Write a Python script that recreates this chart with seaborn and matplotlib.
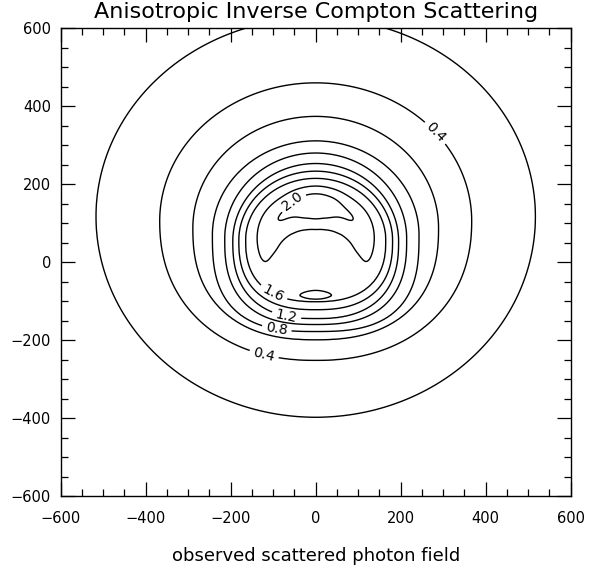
import numpy as np
import matplotlib
matplotlib.use("Agg")
import matplotlib.pyplot as plt
from matplotlib.ticker import MultipleLocator
import seaborn as sns

# ---------------- data ----------------
title = "Anisotropic Inverse Compton Scattering"
xlabel = "observed scattered photon field"

contour_levels = [0.2, 0.4, 0.6, 0.8, 1.0, 1.2, 1.4, 1.6, 1.8, 2.0]
label_levels = [0.4, 0.8, 1.2, 1.6, 2.0]

# closed outer contours (levels 0.2 .. 1.6): y of widest point, half width,
# top and bottom crossing on x = 0, shape exponents of upper/lower halves
ring_levels = [0.2, 0.4, 0.6, 0.8, 1.0, 1.2, 1.4, 1.6]
ring_cy = [117, 106, 88, 70, 60, 54, 56, 57]
ring_a = [517, 367, 289, 243, 214, 195, 181, 165]
ring_top = [627, 460, 374, 311, 280, 253, 233.5, 215]
ring_bottom = [-398, -252, -199, -178, -160, -145, -122, -101]
ring_p_top = [2.0, 2.0, 2.0, 2.0, 2.0, 2.0, 2.0, 2.0]
ring_p_bot = [2.0, 2.2, 2.4, 2.8, 2.6, 2.5, 2.5, 2.5]

# inner ridge (inside the 1.6 contour), around centre (0, ridge_cy)
ridge_cy = 30.0
plateau_value = 1.64
ridge_phi = [0, 15, 30, 48, 57, 75, 90, 103.5, 125, 145, 162, 180]  # deg from +y
ridge_val = [2.14, 2.10, 2.03, 2.00, 1.975, 1.90, 1.845, 1.80, 1.74, 1.75, 1.80, 1.84]
ridge_r = [116, 116, 116, 117, 117, 117, 118, 121, 120, 120, 121, 122]
ridge_w = [100, 100, 100, 92, 86, 80, 80, 76, 70, 68, 68, 68]

# ---------------- build the field ----------------
xs = np.linspace(-600, 600, 601)
ys = np.linspace(-600, 600, 601)
X, Y = np.meshgrid(xs, ys)


def ring_s(i, px, py):
    dy = py - ring_cy[i]
    b = np.where(dy >= 0, ring_top[i] - ring_cy[i], ring_cy[i] - ring_bottom[i])
    p = np.where(dy >= 0, ring_p_top[i], ring_p_bot[i])
    return (np.abs(px / ring_a[i]) ** p + np.abs(dy / b) ** p) ** (1.0 / p)


def smooth_interp(q, xp, fp):
    """Catmull-Rom interpolation on a table mirrored about 0 and 180 deg."""
    xp = np.asarray(xp, float)
    fp = np.asarray(fp, float)
    xe = np.concatenate([-xp[:0:-1], xp, 360 - xp[-2::-1]])
    fe = np.concatenate([fp[:0:-1], fp, fp[-2::-1]])
    j = np.clip(np.searchsorted(xe, q) - 1, 1, len(xe) - 3)
    x0, x1 = xe[j], xe[j + 1]
    f0, f1 = fe[j], fe[j + 1]
    m0 = (fe[j + 1] - fe[j - 1]) / (xe[j + 1] - xe[j - 1])
    m1 = (fe[j + 2] - fe[j]) / (xe[j + 2] - xe[j])
    hh = x1 - x0
    t = (q - x0) / hh
    return ((2 * t ** 3 - 3 * t ** 2 + 1) * f0 + (t ** 3 - 2 * t ** 2 + t) * hh * m0
            + (-2 * t ** 3 + 3 * t ** 2) * f1 + (t ** 3 - t ** 2) * hh * m1)


n = len(ring_levels)
S = np.array([ring_s(i, X, Y) for i in range(n)])
k = (S < 1).sum(axis=0)
Z = np.zeros_like(X)

m = k == 0
Z[m] = ring_levels[0] * np.exp(-(S[0][m] - 1) * 3)
for i in range(n - 1):
    m = k == i + 1
    si, sj = S[i][m], S[i + 1][m]
    f = (1 - si) / ((1 - si) + (sj - 1))
    Z[m] = ring_levels[i] + (ring_levels[i + 1] - ring_levels[i]) * f

# distance from ridge centre to the innermost ring along each direction
phis = np.linspace(0, 180, 721)
ts = np.linspace(0, 400, 4001)
PX = np.outer(ts, np.sin(np.radians(phis)))
PY = ridge_cy + np.outer(ts, np.cos(np.radians(phis)))
S_in = ring_s(n - 1, PX, PY)
rho_ring = ts[np.argmax(S_in >= 1, axis=0)]

m = k == n
dx = X[m]
dyc = Y[m] - ridge_cy
r = np.hypot(dx, dyc)
phi = np.degrees(np.arctan2(np.abs(dx), dyc))
R = smooth_interp(phi, ridge_phi, ridge_val)
rho = smooth_interp(phi, ridge_phi, ridge_r)
w = smooth_interp(phi, ridge_phi, ridge_w)
rho16 = np.interp(phi, phis, rho_ring)

u = np.clip((r - (rho - w)) / w, 0, 1)
g_in = 3 * u ** 2 - 2 * u ** 3
v = np.clip((r - rho) / np.maximum(rho16 - rho, 1e-6), 0, 1)
cap = 0.45
q = np.where(v < cap, v ** 2 / (2 * cap), v - cap / 2)
h_out = q / (1 - cap / 2)
Zi = np.where(r <= rho,
              plateau_value + (R - plateau_value) * g_in,
              R - (R - ring_levels[-1]) * h_out)
Z[m] = Zi

# ---------------- plot ----------------
sns.set_theme(style="white")
plt.rcParams["font.family"] = ["DejaVu Sans"]
plt.rcParams["axes.unicode_minus"] = True

W, H = 590, 575
fig = plt.figure(figsize=(W / 100, H / 100), dpi=100)
left, right, top, bottom = 60.7, 570.7, 28.3, 496.0
ax = fig.add_axes([left / W, 1 - bottom / H, (right - left) / W, (bottom - top) / H])

plain_levels = [lv for lv in contour_levels if lv not in label_levels]
ax.contour(X, Y, Z, levels=plain_levels, colors="black", linewidths=1.0)
cs = ax.contour(X, Y, Z, levels=label_levels, colors="black", linewidths=1.0)
label_pos = [(271, 321), (-122, -240), (-92, -173), (-69, -139), (-100, -81), (-51, 151)]
ax.clabel(cs, manual=label_pos, fmt="%.1f",
          fontsize=10, inline=True, inline_spacing=4)

ax.set_xlim(-600, 600)
ax.set_ylim(-600, 600)
ax.set_xticks(np.arange(-600, 601, 200))
ax.set_yticks(np.arange(-600, 601, 200))
ax.xaxis.set_minor_locator(MultipleLocator(50))
ax.yaxis.set_minor_locator(MultipleLocator(50))
ax.tick_params(which="both", direction="in", top=True, right=True,
               bottom=True, left=True,
               color="black", labelcolor="black", labelsize=10.5)
ax.tick_params(which="major", length=10, width=0.9)
ax.tick_params(which="minor", length=5, width=0.9)
ax.tick_params(axis="x", which="major", pad=11)
ax.tick_params(axis="y", which="major", pad=7)
for sp in ax.spines.values():
    sp.set_color("black")
    sp.set_linewidth(1.0)
ax.grid(False)
ax.set_facecolor("white")

fig.text((left + right) / 2 / W, 1 - 12 / H, title, ha="center", va="center",
         fontsize=16, color="black")
fig.text((left + right) / 2 / W, 1 - 556 / H, xlabel, ha="center", va="center",
         fontsize=13, color="black")

fig.savefig("out.png", dpi=100, facecolor="white")
